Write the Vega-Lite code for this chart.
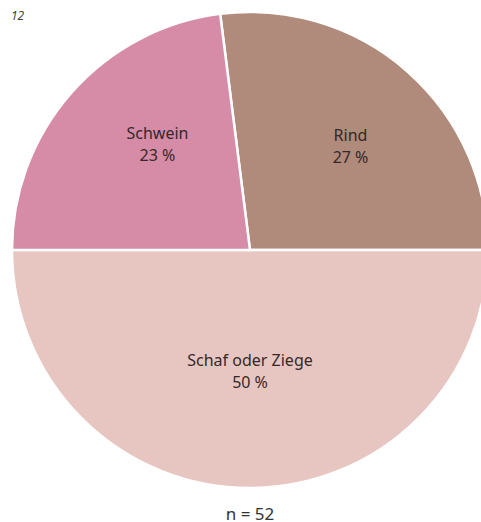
{
  "$schema": "https://vega.github.io/schema/vega-lite/v6.json",
  "description": "Pie chart: Schwein, Rind, Schaf oder Ziege (n=52)",
  "padding": {"left": 6, "top": 7, "right": 0, "bottom": 0},
  "background": "white",
  "title": {
    "text": "12",
    "anchor": "start",
    "frame": "group",
    "font": "Noto Sans",
    "fontSize": 12,
    "fontStyle": "italic",
    "fontWeight": "normal",
    "color": "#444444",
    "offset": -16,
    "dx": 5
  },
  "vconcat": [
    {
      "width": 488,
      "height": 422,
      "title": {
        "text": "n = 52",
        "orient": "bottom",
        "anchor": "middle",
        "font": "Noto Sans",
        "fontSize": 17,
        "fontWeight": "normal",
        "color": "#333333",
        "offset": 14
      },
      "data": {
        "values": [
          {"category": "Rind", "value": 27, "label": "Rind\n27 %"},
          {"category": "Schaf oder Ziege", "value": 50, "label": "Schaf oder Ziege\n50 %"},
          {"category": "Schwein", "value": 23, "label": "Schwein\n23 %"}
        ]
      },
      "encoding": {
        "theta": {
          "field": "value",
          "type": "quantitative",
          "stack": true,
          "scale": {"domain": [0, 100], "range": [-0.1257, 6.1575]}
        },
        "order": {"field": "category", "type": "nominal"},
        "text": {"field": "label"}
      },
      "layer": [
        {
          "mark": {"type": "arc", "outerRadius": 238, "stroke": "white", "strokeWidth": 2.5},
          "encoding": {
            "text": null,
            "color": {
              "field": "category",
              "type": "nominal",
              "scale": {
                "domain": ["Rind", "Schaf oder Ziege", "Schwein"],
                "range": ["#b08a7a", "#e7c6c1", "#d68ba7"]
              },
              "legend": null
            }
          }
        },
        {
          "mark": {
            "type": "text",
            "radius": 152,
            "font": "Noto Sans",
            "fontSize": 16,
            "lineBreak": "\n",
            "lineHeight": 22,
            "color": "#35282b",
            "align": "center",
            "baseline": "middle"
          },
          "encoding": {
            "opacity": {"condition": {"test": "datum.category === 'Rind'", "value": 1}, "value": 0}
          }
        },
        {
          "mark": {
            "type": "text",
            "radius": 150,
            "dx": 20,
            "dy": -17,
            "font": "Noto Sans",
            "fontSize": 16,
            "lineBreak": "\n",
            "lineHeight": 22,
            "color": "#35282b",
            "align": "center",
            "baseline": "middle"
          },
          "encoding": {
            "opacity": {"condition": {"test": "datum.category === 'Schwein'", "value": 1}, "value": 0}
          }
        },
        {
          "mark": {
            "type": "text",
            "radius": 111,
            "font": "Noto Sans",
            "fontSize": 16,
            "lineBreak": "\n",
            "lineHeight": 22,
            "color": "#35282b",
            "align": "center",
            "baseline": "middle"
          },
          "encoding": {
            "opacity": {"condition": {"test": "datum.category === 'Schaf oder Ziege'", "value": 1}, "value": 0}
          }
        }
      ]
    }
  ],
  "config": {"view": {"stroke": null}}
}
